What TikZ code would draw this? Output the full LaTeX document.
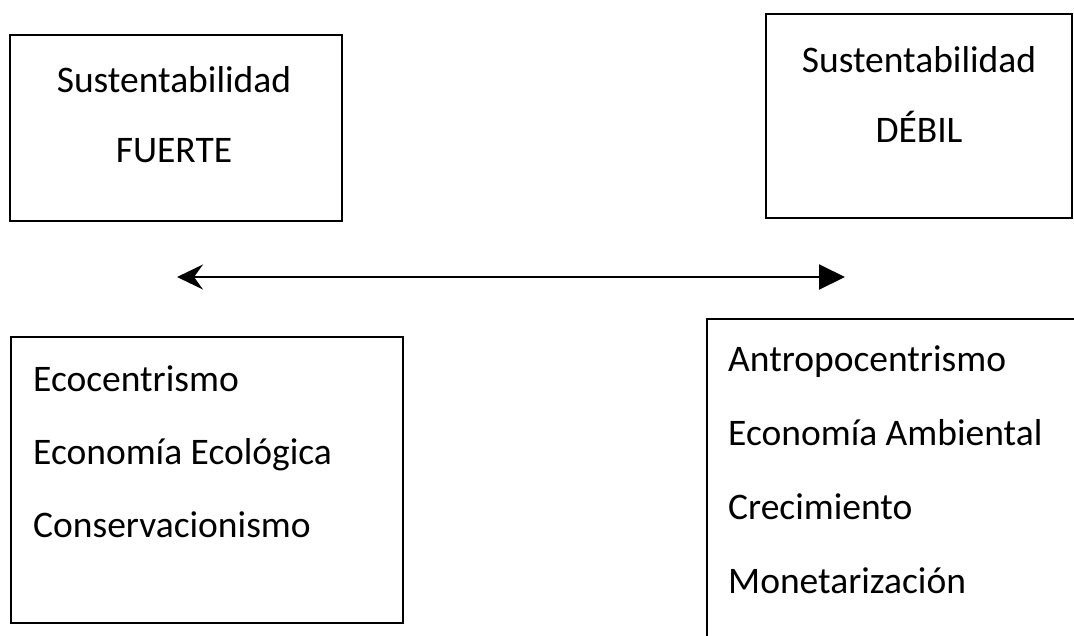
\documentclass[tikz,border=0pt]{standalone}
\usepackage{fontspec}
\setmainfont{Carlito}
\usetikzlibrary{arrows.meta,positioning}
\tikzset{
  box/.style={
    draw=black,
    line width=2pt,
    rectangle,
    inner sep=0pt
  },
  title/.style={
    font=\fontsize{37.5}{70}\selectfont,
    align=center,
    inner sep=0pt
  },
  itemlist/.style={
    font=\fontsize{37.5}{73}\selectfont,
    align=left,
    inner sep=0pt
  },
  arrow/.style={
    {Stealth[length=26pt,width=25pt,inset=9pt]}-{Triangle[length=26pt,width=25pt]},
    line width=2pt
  }
}

\begin{document}
\begin{tikzpicture}[x=1pt,y=-1pt]
\useasboundingbox (0,0) rectangle (1074,635);
\clip (0,0) rectangle (1074,635);

% upper boxes
\node[box, minimum width=332pt, minimum height=186pt] (fuerte) at (176,128) {};
\node[title, anchor=base] (fuertetitle) at (174,162) {Sustentabilidad\\FUERTE};

\node[box, minimum width=306pt, minimum height=204pt] (debil) at (919,116) {};
\node[title, anchor=base] (debiltitle) at (919,142) {Sustentabilidad\\DÉBIL};

% double arrow
\coordinate (leftend) at (177,277);
\coordinate (rightend) at (845,277);
\draw[arrow] (leftend) -- (rightend);

% lower boxes
\node[box, minimum width=392pt, minimum height=286pt] (fuertebox) at (207,480) {};
\node[itemlist, anchor=base west] (fuertelist) at (33,537) {Ecocentrismo\\Economía Ecológica\\Conservacionismo};

\node[box, anchor=north west, minimum width=420pt, minimum height=400pt] (debilbox) at (706,318) {};
\node[itemlist, anchor=base west, font=\fontsize{37.5}{74}\selectfont] (debillist) at (728,593) {Antropocentrismo\\Economía Ambiental\\Crecimiento\\Monetarización};

\end{tikzpicture}
\end{document}
